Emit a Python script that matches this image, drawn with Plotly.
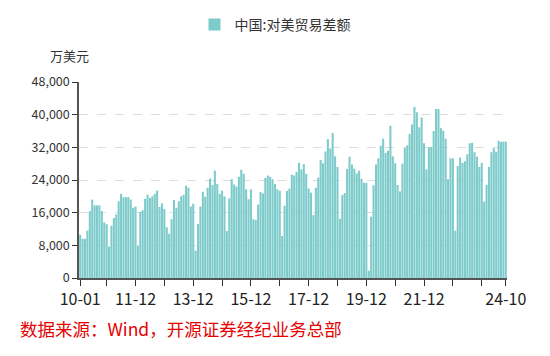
import plotly.graph_objects as go

# Monthly series 2010-01 .. 2024-10
start_year, start_month = 2010, 1
values = [
    10600, 9600, 9600, 11600, 16400, 19200, 17800, 17800, 17800, 16400, 13600, 13200,
    7700, 12800, 14700, 15600, 18800, 20600, 19800, 19800, 19800, 19200, 17200, 17500,
    7800, 16200, 16600, 19400, 20400, 19600, 20000, 20600, 21400, 17400, 18300, 16900,
    12400, 10800, 14400, 19100, 17200, 18800, 20000, 20400, 22600, 22100, 17500, 18200,
    6700, 13200, 17500, 21100, 19900, 22100, 24400, 22800, 26300, 23000, 20600, 21400,
    20000, 11500, 19500, 24200, 22900, 22400, 24800, 26500, 25500, 21700, 19300, 21700,
    14400, 14200, 18000, 21100, 20700, 24500, 25100, 24800, 24200, 23000, 21700, 21400,
    10300, 17700, 21300, 21900, 25300, 25100, 26000, 28200, 26600, 27900, 25500, 21900,
    20900, 15400, 22100, 24600, 28900, 28100, 31000, 34000, 31700, 35500, 29800, 27200,
    14500, 20300, 20800, 26700, 29700, 27800, 26800, 25600, 26300, 24300, 23300, 23300,
    1800, 15000, 22700, 27800, 29300, 32400, 34100, 30600, 31200, 37300, 29800, 28100,
    22800, 21200, 28000, 31800, 32500, 35300, 37600, 41900, 40600, 36900, 39300, 33000,
    26600, 32000, 32100, 36000, 41400, 41400, 36700, 36100, 34100, 24200, 29300, 29300,
    11600, 27400, 29500, 28200, 28600, 30300, 33000, 33100, 30800, 29700, 27200, 28200,
    18700, 22800, 27200, 30800, 31800, 30900, 33600, 33300, 33400, 33400,
]
months = []
y, m = start_year, start_month
for _ in values:
    months.append(f"{y % 100:02d}-{m:02d}")
    m += 1
    if m > 12:
        m = 1
        y += 1

series_name = "中国:对美贸易差额"
unit_label = "万美元"
source_text = "数据来源：Wind，开源证券经纪业务总部"
labeled_months = ["10-01", "11-12", "13-12", "15-12", "17-12", "19-12", "21-12", "24-10"]
tick_months = ["10-01"] + [f"{yy:02d}-12" for yy in range(10, 24)] + ["24-10"]
y_ticks = [0, 8000, 16000, 24000, 32000, 40000, 48000]

x_idx = list(range(len(values)))
tickvals = [months.index(t) for t in tick_months]
ticktext = [t if t in labeled_months else "" for t in tick_months]

font_family = "Noto Sans CJK SC, Noto Sans, sans-serif"
bar_color = "#7ecbcb"

fig = go.Figure()
fig.add_trace(go.Bar(
    x=x_idx, y=values, name=series_name,
    marker=dict(color=bar_color, line=dict(width=0)),
    customdata=months,
    hovertemplate="%{customdata}: %{y:,}<extra></extra>",
    showlegend=True,
))

fig.update_layout(
    width=550, height=356,
    margin=dict(l=79, r=43, t=82, b=78),
    paper_bgcolor="white", plot_bgcolor="white",
    bargap=0.14,
    font=dict(family=font_family, color="#333333"),
    showlegend=True,
    legend=dict(
        orientation="h", xref="container", yref="container",
        x=0.5, xanchor="center", y=1 - 25 / 356, yanchor="middle",
        font=dict(size=14, color="#333333"),
        bgcolor="rgba(0,0,0,0)",
    ),
    xaxis=dict(
        range=[-0.5, len(values) - 0.5],
        tickmode="array", tickvals=tickvals, ticktext=ticktext,
        ticks="outside", ticklen=6, tickcolor="#333333", tickwidth=1,
        showline=True, linecolor="#555555", linewidth=1.5,
        showgrid=False, zeroline=False,
        tickfont=dict(size=16, color="#222222"),
        tickangle=0,
    ),
    yaxis=dict(
        range=[0, 48000],
        tickmode="array", tickvals=y_ticks,
        ticktext=[f"{v:,}" for v in y_ticks],
        ticks="outside", ticklen=5, tickcolor="#333333",
        showline=True, linecolor="#555555", linewidth=1.5,
        showgrid=True, gridcolor="#dddddd", griddash="dash", gridwidth=1,
        zeroline=False,
        tickfont=dict(size=12.5, color="#333333"),
    ),
    annotations=[
        dict(text=unit_label, xref="paper", yref="paper",
             x=(69 - 79) / 428, y=(278 - 55) / 196, xanchor="center", yanchor="middle",
             showarrow=False, font=dict(size=13, color="#333333")),
        dict(text=source_text, xref="paper", yref="paper",
             x=(18 - 79) / 428, y=(278 - 328) / 196, xanchor="left", yanchor="middle",
             showarrow=False, font=dict(size=17.5, color="#e60000")),
    ],
)

fig.write_html(
    "out.html",
    config={"displayModeBar": False},
    post_script="document.body.style.margin='0';document.body.style.overflow='hidden';",
)
